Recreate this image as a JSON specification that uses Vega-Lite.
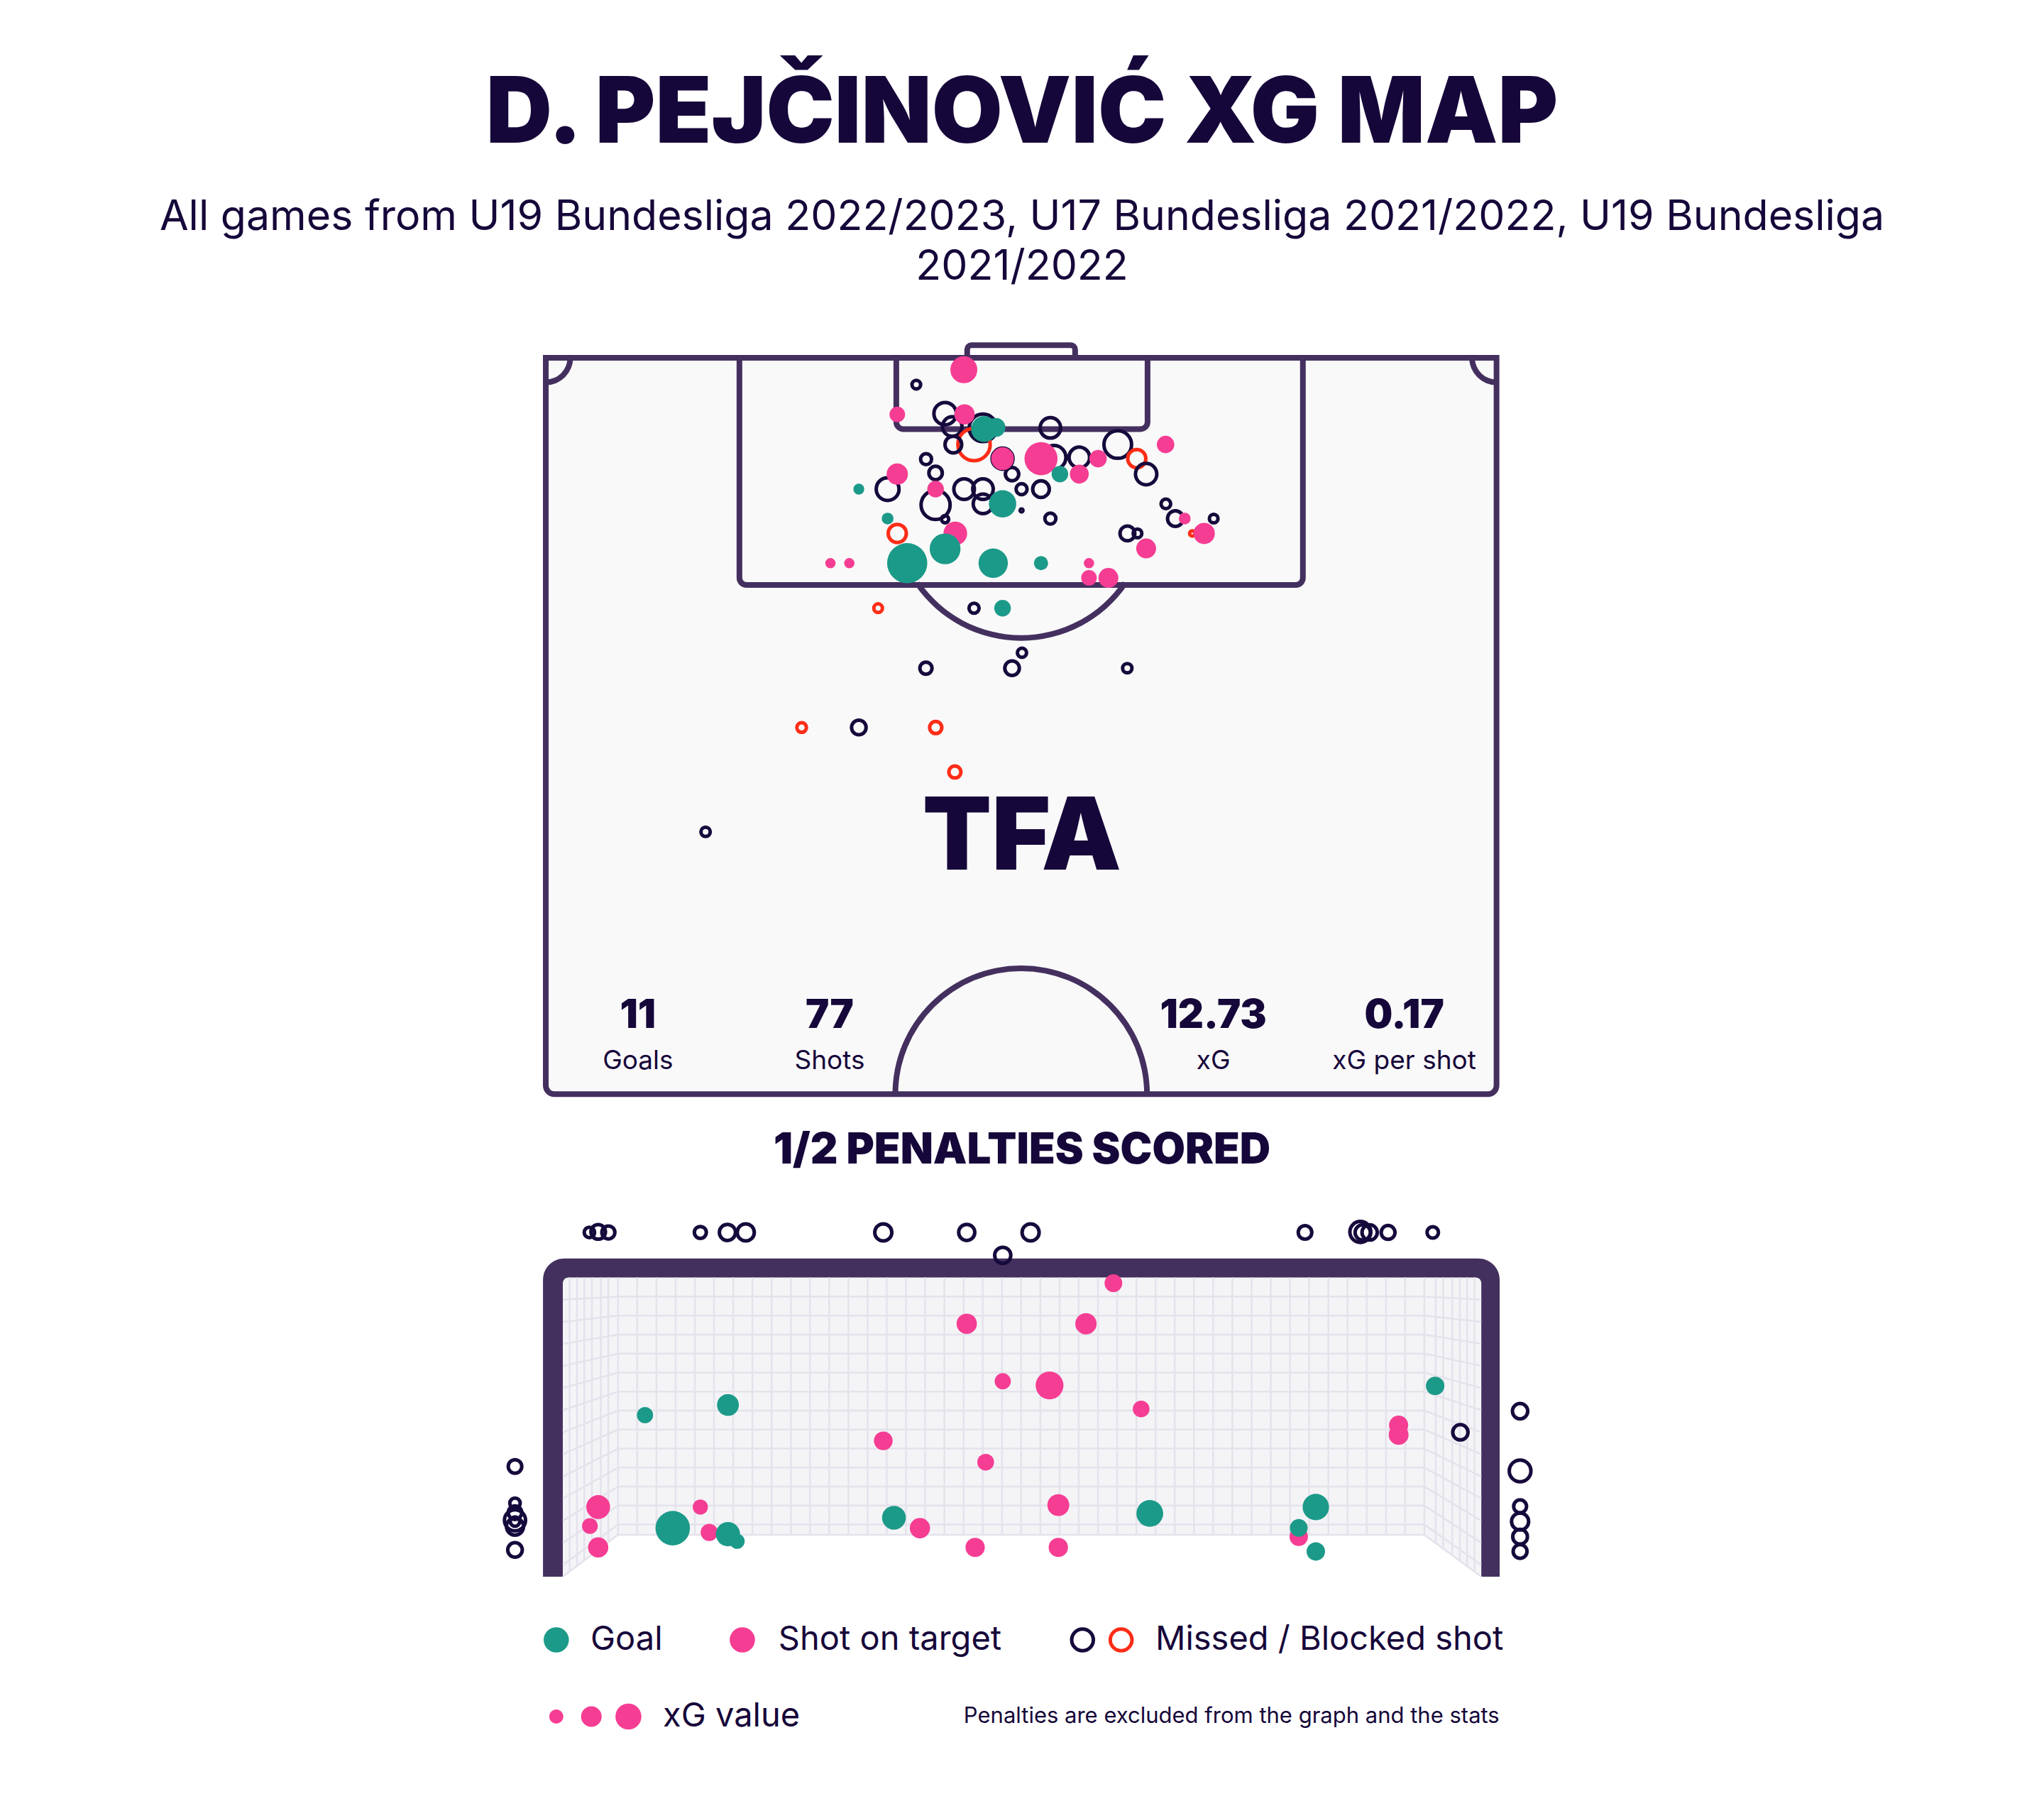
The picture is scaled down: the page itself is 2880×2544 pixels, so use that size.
{
  "$schema": "https://vega.github.io/schema/vega-lite/v6.json",
  "background": "white",
  "padding": {"left": 0, "right": 0, "top": 98, "bottom": 40},
  "autosize": {"type": "pad"},
  "bounds": "flush",
  "spacing": 140,
  "config": {"font": "Inter", "view": {"stroke": null}},
  "title": {
    "text": "D. PEJČINOVIĆ XG MAP",
    "subtitle": ["All games from U19 Bundesliga 2022/2023, U17 Bundesliga 2021/2022, U19 Bundesliga", "2021/2022"],
    "anchor": "middle",
    "font": "Inter",
    "fontSize": 129,
    "fontWeight": 900,
    "color": "#16073a",
    "subtitleFont": "Inter",
    "subtitleFontSize": 59,
    "subtitleFontWeight": 400,
    "subtitleColor": "#16073a",
    "subtitleLineHeight": 70,
    "subtitlePadding": 49,
    "offset": 72
  },
  "datasets": {
    "pitchShots": [
      {"x": 26.5, "y": 1.91, "xg": 0.037, "type": "Missed"},
      {"x": 28.56, "y": 3.98, "xg": 0.248, "type": "Missed"},
      {"x": 29.07, "y": 4.9, "xg": 0.189, "type": "Missed"},
      {"x": 31.27, "y": 4.99, "xg": 0.378, "type": "Missed"},
      {"x": 30.63, "y": 6.18, "xg": 0.518, "type": "Blocked"},
      {"x": 29.15, "y": 6.18, "xg": 0.138, "type": "Missed"},
      {"x": 36.09, "y": 4.99, "xg": 0.209, "type": "Missed"},
      {"x": 32.67, "y": 7.19, "xg": 0.218, "type": "Missed"},
      {"x": 36.35, "y": 7.1, "xg": 0.281, "type": "Missed"},
      {"x": 38.16, "y": 7.1, "xg": 0.209, "type": "Missed"},
      {"x": 27.2, "y": 7.22, "xg": 0.06, "type": "Missed"},
      {"x": 27.88, "y": 8.21, "xg": 0.089, "type": "Missed"},
      {"x": 24.45, "y": 9.36, "xg": 0.258, "type": "Missed"},
      {"x": 27.88, "y": 10.49, "xg": 0.418, "type": "Missed"},
      {"x": 29.92, "y": 9.36, "xg": 0.209, "type": "Missed"},
      {"x": 31.27, "y": 9.36, "xg": 0.209, "type": "Missed"},
      {"x": 31.27, "y": 10.41, "xg": 0.189, "type": "Missed"},
      {"x": 33.35, "y": 8.29, "xg": 0.089, "type": "Missed"},
      {"x": 34.03, "y": 9.36, "xg": 0.06, "type": "Missed"},
      {"x": 35.42, "y": 9.36, "xg": 0.138, "type": "Missed"},
      {"x": 34.03, "y": 10.88, "xg": 0.004, "type": "Missed"},
      {"x": 36.09, "y": 11.46, "xg": 0.06, "type": "Missed"},
      {"x": 28.56, "y": 11.51, "xg": 0.026, "type": "Missed"},
      {"x": 25.14, "y": 12.52, "xg": 0.163, "type": "Blocked"},
      {"x": 23.77, "y": 17.85, "xg": 0.037, "type": "Blocked"},
      {"x": 30.63, "y": 17.85, "xg": 0.05, "type": "Missed"},
      {"x": 40.91, "y": 6.18, "xg": 0.378, "type": "Missed"},
      {"x": 42.27, "y": 7.19, "xg": 0.163, "type": "Blocked"},
      {"x": 42.94, "y": 8.29, "xg": 0.226, "type": "Missed"},
      {"x": 44.35, "y": 10.41, "xg": 0.046, "type": "Missed"},
      {"x": 45.03, "y": 11.46, "xg": 0.122, "type": "Missed"},
      {"x": 47.77, "y": 11.46, "xg": 0.037, "type": "Missed"},
      {"x": 46.24, "y": 12.52, "xg": 0.014, "type": "Blocked"},
      {"x": 41.6, "y": 12.52, "xg": 0.109, "type": "Missed"},
      {"x": 42.32, "y": 12.52, "xg": 0.037, "type": "Missed"},
      {"x": 27.19, "y": 22.13, "xg": 0.073, "type": "Missed"},
      {"x": 33.35, "y": 22.13, "xg": 0.105, "type": "Missed"},
      {"x": 34.06, "y": 21.03, "xg": 0.042, "type": "Missed"},
      {"x": 41.59, "y": 22.13, "xg": 0.043, "type": "Missed"},
      {"x": 18.3, "y": 26.36, "xg": 0.046, "type": "Blocked"},
      {"x": 22.39, "y": 26.36, "xg": 0.105, "type": "Missed"},
      {"x": 27.89, "y": 26.36, "xg": 0.073, "type": "Blocked"},
      {"x": 29.26, "y": 29.53, "xg": 0.071, "type": "Blocked"},
      {"x": 11.43, "y": 33.8, "xg": 0.043, "type": "Missed"},
      {"x": 29.9, "y": 0.85, "xg": 0.361, "type": "On target"},
      {"x": 25.14, "y": 4.03, "xg": 0.121, "type": "On target"},
      {"x": 29.95, "y": 4.03, "xg": 0.204, "type": "On target"},
      {"x": 32.67, "y": 7.19, "xg": 0.256, "type": "On target"},
      {"x": 35.42, "y": 7.19, "xg": 0.543, "type": "On target"},
      {"x": 39.5, "y": 7.19, "xg": 0.151, "type": "On target"},
      {"x": 25.14, "y": 8.29, "xg": 0.225, "type": "On target"},
      {"x": 27.88, "y": 9.36, "xg": 0.137, "type": "On target"},
      {"x": 38.16, "y": 8.29, "xg": 0.177, "type": "On target"},
      {"x": 29.29, "y": 12.52, "xg": 0.279, "type": "On target"},
      {"x": 20.36, "y": 14.64, "xg": 0.053, "type": "On target"},
      {"x": 21.71, "y": 14.64, "xg": 0.053, "type": "On target"},
      {"x": 38.85, "y": 14.64, "xg": 0.053, "type": "On target"},
      {"x": 38.85, "y": 15.69, "xg": 0.121, "type": "On target"},
      {"x": 40.24, "y": 15.69, "xg": 0.196, "type": "On target"},
      {"x": 44.33, "y": 6.18, "xg": 0.151, "type": "On target"},
      {"x": 45.7, "y": 11.46, "xg": 0.069, "type": "On target"},
      {"x": 47.09, "y": 12.52, "xg": 0.225, "type": "On target"},
      {"x": 42.94, "y": 13.59, "xg": 0.196, "type": "On target"},
      {"x": 31.35, "y": 5.08, "xg": 0.335, "type": "Goal"},
      {"x": 32.2, "y": 4.96, "xg": 0.177, "type": "Goal"},
      {"x": 22.39, "y": 9.36, "xg": 0.059, "type": "Goal"},
      {"x": 32.67, "y": 10.41, "xg": 0.372, "type": "Goal"},
      {"x": 36.77, "y": 8.29, "xg": 0.137, "type": "Goal"},
      {"x": 24.45, "y": 11.46, "xg": 0.069, "type": "Goal"},
      {"x": 28.56, "y": 13.62, "xg": 0.471, "type": "Goal"},
      {"x": 25.85, "y": 14.64, "xg": 0.801, "type": "Goal"},
      {"x": 32.0, "y": 14.64, "xg": 0.428, "type": "Goal"},
      {"x": 35.42, "y": 14.64, "xg": 0.1, "type": "Goal"},
      {"x": 32.67, "y": 17.85, "xg": 0.137, "type": "Goal"}
    ],
    "goalShots": [
      {"x": 0.212, "y": 2.808, "xg": 0.054, "type": "Missed"},
      {"x": 0.282, "y": 2.812, "xg": 0.105, "type": "Missed"},
      {"x": 0.363, "y": 2.808, "xg": 0.084, "type": "Missed"},
      {"x": 1.096, "y": 2.808, "xg": 0.071, "type": "Missed"},
      {"x": 1.312, "y": 2.808, "xg": 0.129, "type": "Missed"},
      {"x": 1.458, "y": 2.808, "xg": 0.145, "type": "Missed"},
      {"x": 2.554, "y": 2.808, "xg": 0.145, "type": "Missed"},
      {"x": 3.219, "y": 2.808, "xg": 0.129, "type": "Missed"},
      {"x": 3.506, "y": 2.621, "xg": 0.129, "type": "Missed"},
      {"x": 3.728, "y": 2.808, "xg": 0.145, "type": "Missed"},
      {"x": 5.915, "y": 2.808, "xg": 0.091, "type": "Missed"},
      {"x": 6.356, "y": 2.812, "xg": 0.218, "type": "Missed"},
      {"x": 6.375, "y": 2.808, "xg": 0.116, "type": "Missed"},
      {"x": 6.43, "y": 2.808, "xg": 0.116, "type": "Missed"},
      {"x": 6.577, "y": 2.808, "xg": 0.095, "type": "Missed"},
      {"x": 6.933, "y": 2.808, "xg": 0.065, "type": "Missed"},
      {"x": -0.381, "y": 0.899, "xg": 0.091, "type": "Missed"},
      {"x": -0.381, "y": 0.599, "xg": 0.054, "type": "Missed"},
      {"x": -0.381, "y": 0.522, "xg": 0.091, "type": "Missed"},
      {"x": -0.381, "y": 0.46, "xg": 0.221, "type": "Missed"},
      {"x": -0.381, "y": 0.409, "xg": 0.145, "type": "Missed"},
      {"x": -0.381, "y": 0.45, "xg": 0.044, "type": "Missed"},
      {"x": -0.381, "y": 0.218, "xg": 0.105, "type": "Missed"},
      {"x": 7.153, "y": 1.178, "xg": 0.116, "type": "Missed"},
      {"x": 7.629, "y": 1.35, "xg": 0.116, "type": "Missed"},
      {"x": 7.629, "y": 0.863, "xg": 0.233, "type": "Missed"},
      {"x": 7.629, "y": 0.574, "xg": 0.082, "type": "Missed"},
      {"x": 7.629, "y": 0.45, "xg": 0.145, "type": "Missed"},
      {"x": 7.629, "y": 0.326, "xg": 0.107, "type": "Missed"},
      {"x": 7.629, "y": 0.206, "xg": 0.095, "type": "Missed"},
      {"x": 4.388, "y": 2.394, "xg": 0.156, "type": "On target"},
      {"x": 3.219, "y": 2.063, "xg": 0.204, "type": "On target"},
      {"x": 4.169, "y": 2.063, "xg": 0.225, "type": "On target"},
      {"x": 3.506, "y": 1.594, "xg": 0.13, "type": "On target"},
      {"x": 3.879, "y": 1.56, "xg": 0.384, "type": "On target"},
      {"x": 4.609, "y": 1.368, "xg": 0.139, "type": "On target"},
      {"x": 2.554, "y": 1.108, "xg": 0.174, "type": "On target"},
      {"x": 3.37, "y": 0.934, "xg": 0.139, "type": "On target"},
      {"x": 6.661, "y": 1.236, "xg": 0.182, "type": "On target"},
      {"x": 6.661, "y": 1.157, "xg": 0.196, "type": "On target"},
      {"x": 0.282, "y": 0.568, "xg": 0.282, "type": "On target"},
      {"x": 0.216, "y": 0.413, "xg": 0.123, "type": "On target"},
      {"x": 0.282, "y": 0.239, "xg": 0.204, "type": "On target"},
      {"x": 1.096, "y": 0.568, "xg": 0.114, "type": "On target"},
      {"x": 1.167, "y": 0.361, "xg": 0.146, "type": "On target"},
      {"x": 3.949, "y": 0.584, "xg": 0.237, "type": "On target"},
      {"x": 2.846, "y": 0.396, "xg": 0.204, "type": "On target"},
      {"x": 3.286, "y": 0.239, "xg": 0.185, "type": "On target"},
      {"x": 3.949, "y": 0.239, "xg": 0.185, "type": "On target"},
      {"x": 5.865, "y": 0.326, "xg": 0.169, "type": "On target"},
      {"x": 0.655, "y": 1.318, "xg": 0.13, "type": "Goal"},
      {"x": 1.316, "y": 1.401, "xg": 0.237, "type": "Goal"},
      {"x": 6.952, "y": 1.556, "xg": 0.169, "type": "Goal"},
      {"x": 0.876, "y": 0.396, "xg": 0.59, "type": "Goal"},
      {"x": 1.316, "y": 0.347, "xg": 0.292, "type": "Goal"},
      {"x": 1.389, "y": 0.289, "xg": 0.114, "type": "Goal"},
      {"x": 2.639, "y": 0.481, "xg": 0.282, "type": "Goal"},
      {"x": 4.678, "y": 0.516, "xg": 0.357, "type": "Goal"},
      {"x": 6.001, "y": 0.568, "xg": 0.346, "type": "Goal"},
      {"x": 5.865, "y": 0.398, "xg": 0.156, "type": "Goal"},
      {"x": 6.001, "y": 0.206, "xg": 0.169, "type": "Goal"}
    ],
    "stats": [
      {"x": 6.59, "y": 46.9, "ly": 50.15, "value": "11", "label": "Goals"},
      {"x": 20.3, "y": 46.9, "ly": 50.15, "value": "77", "label": "Shots"},
      {"x": 47.75, "y": 46.9, "ly": 50.15, "value": "12.73", "label": "xG"},
      {"x": 61.4, "y": 46.9, "ly": 50.15, "value": "0.17", "label": "xG per shot"}
    ],
    "net": [
      {"x": 0.44, "x2": 6.866, "y": 2.285, "y2": 2.285},
      {"x": 0.44, "x2": 6.866, "y": 2.13, "y2": 2.13},
      {"x": 0.44, "x2": 6.866, "y": 1.975, "y2": 1.975},
      {"x": 0.44, "x2": 6.866, "y": 1.82, "y2": 1.82},
      {"x": 0.44, "x2": 6.866, "y": 1.665, "y2": 1.665},
      {"x": 0.44, "x2": 6.866, "y": 1.51, "y2": 1.51},
      {"x": 0.44, "x2": 6.866, "y": 1.355, "y2": 1.355},
      {"x": 0.44, "x2": 6.866, "y": 1.2, "y2": 1.2},
      {"x": 0.44, "x2": 6.866, "y": 1.045, "y2": 1.045},
      {"x": 0.44, "x2": 6.866, "y": 0.89, "y2": 0.89},
      {"x": 0.44, "x2": 6.866, "y": 0.735, "y2": 0.735},
      {"x": 0.44, "x2": 6.866, "y": 0.58, "y2": 0.58},
      {"x": 0.44, "x2": 6.866, "y": 0.425, "y2": 0.425},
      {"x": 0.44, "x2": 6.866, "y": 0.342, "y2": 0.342},
      {"x": 0, "x2": 0.44, "y": 2.26, "y2": 2.285},
      {"x": 0, "x2": 0.44, "y": 2.079, "y2": 2.13},
      {"x": 0, "x2": 0.44, "y": 1.899, "y2": 1.975},
      {"x": 0, "x2": 0.44, "y": 1.719, "y2": 1.82},
      {"x": 0, "x2": 0.44, "y": 1.539, "y2": 1.665},
      {"x": 0, "x2": 0.44, "y": 1.358, "y2": 1.51},
      {"x": 0, "x2": 0.44, "y": 1.178, "y2": 1.355},
      {"x": 0, "x2": 0.44, "y": 0.998, "y2": 1.2},
      {"x": 0, "x2": 0.44, "y": 0.817, "y2": 1.045},
      {"x": 0, "x2": 0.44, "y": 0.637, "y2": 0.89},
      {"x": 0, "x2": 0.44, "y": 0.457, "y2": 0.735},
      {"x": 0, "x2": 0.44, "y": 0.276, "y2": 0.58},
      {"x": 0, "x2": 0.44, "y": 0.096, "y2": 0.425},
      {"x": 0, "x2": 0.44, "y": 0, "y2": 0.342},
      {"x": 7.32, "x2": 6.866, "y": 2.26, "y2": 2.285},
      {"x": 7.32, "x2": 6.866, "y": 2.079, "y2": 2.13},
      {"x": 7.32, "x2": 6.866, "y": 1.899, "y2": 1.975},
      {"x": 7.32, "x2": 6.866, "y": 1.719, "y2": 1.82},
      {"x": 7.32, "x2": 6.866, "y": 1.539, "y2": 1.665},
      {"x": 7.32, "x2": 6.866, "y": 1.358, "y2": 1.51},
      {"x": 7.32, "x2": 6.866, "y": 1.178, "y2": 1.355},
      {"x": 7.32, "x2": 6.866, "y": 0.998, "y2": 1.2},
      {"x": 7.32, "x2": 6.866, "y": 0.817, "y2": 1.045},
      {"x": 7.32, "x2": 6.866, "y": 0.637, "y2": 0.89},
      {"x": 7.32, "x2": 6.866, "y": 0.457, "y2": 0.735},
      {"x": 7.32, "x2": 6.866, "y": 0.276, "y2": 0.58},
      {"x": 7.32, "x2": 6.866, "y": 0.096, "y2": 0.425},
      {"x": 7.32, "x2": 6.866, "y": 0, "y2": 0.342},
      {"x": 0.054, "x2": 0.054, "y": 0.042, "y2": 2.44},
      {"x": 0.113, "x2": 0.113, "y": 0.088, "y2": 2.44},
      {"x": 0.171, "x2": 0.171, "y": 0.133, "y2": 2.44},
      {"x": 0.232, "x2": 0.232, "y": 0.18, "y2": 2.44},
      {"x": 0.303, "x2": 0.303, "y": 0.236, "y2": 2.44},
      {"x": 0.363, "x2": 0.363, "y": 0.282, "y2": 2.44},
      {"x": 7.266, "x2": 7.266, "y": 0.042, "y2": 2.44},
      {"x": 7.207, "x2": 7.207, "y": 0.088, "y2": 2.44},
      {"x": 7.149, "x2": 7.149, "y": 0.133, "y2": 2.44},
      {"x": 7.088, "x2": 7.088, "y": 0.18, "y2": 2.44},
      {"x": 7.017, "x2": 7.017, "y": 0.236, "y2": 2.44},
      {"x": 6.957, "x2": 6.957, "y": 0.282, "y2": 2.44},
      {"x": 0.44, "x2": 0.44, "y": 0.342, "y2": 2.44},
      {"x": 0.593, "x2": 0.593, "y": 0.342, "y2": 2.44},
      {"x": 0.746, "x2": 0.746, "y": 0.342, "y2": 2.44},
      {"x": 0.899, "x2": 0.899, "y": 0.342, "y2": 2.44},
      {"x": 1.052, "x2": 1.052, "y": 0.342, "y2": 2.44},
      {"x": 1.205, "x2": 1.205, "y": 0.342, "y2": 2.44},
      {"x": 1.358, "x2": 1.358, "y": 0.342, "y2": 2.44},
      {"x": 1.511, "x2": 1.511, "y": 0.342, "y2": 2.44},
      {"x": 1.664, "x2": 1.664, "y": 0.342, "y2": 2.44},
      {"x": 1.817, "x2": 1.817, "y": 0.342, "y2": 2.44},
      {"x": 1.97, "x2": 1.97, "y": 0.342, "y2": 2.44},
      {"x": 2.123, "x2": 2.123, "y": 0.342, "y2": 2.44},
      {"x": 2.276, "x2": 2.276, "y": 0.342, "y2": 2.44},
      {"x": 2.429, "x2": 2.429, "y": 0.342, "y2": 2.44},
      {"x": 2.582, "x2": 2.582, "y": 0.342, "y2": 2.44},
      {"x": 2.735, "x2": 2.735, "y": 0.342, "y2": 2.44},
      {"x": 2.888, "x2": 2.888, "y": 0.342, "y2": 2.44},
      {"x": 3.041, "x2": 3.041, "y": 0.342, "y2": 2.44},
      {"x": 3.194, "x2": 3.194, "y": 0.342, "y2": 2.44},
      {"x": 3.347, "x2": 3.347, "y": 0.342, "y2": 2.44},
      {"x": 3.5, "x2": 3.5, "y": 0.342, "y2": 2.44},
      {"x": 3.653, "x2": 3.653, "y": 0.342, "y2": 2.44},
      {"x": 3.806, "x2": 3.806, "y": 0.342, "y2": 2.44},
      {"x": 3.959, "x2": 3.959, "y": 0.342, "y2": 2.44},
      {"x": 4.112, "x2": 4.112, "y": 0.342, "y2": 2.44},
      {"x": 4.265, "x2": 4.265, "y": 0.342, "y2": 2.44},
      {"x": 4.418, "x2": 4.418, "y": 0.342, "y2": 2.44},
      {"x": 4.571, "x2": 4.571, "y": 0.342, "y2": 2.44},
      {"x": 4.724, "x2": 4.724, "y": 0.342, "y2": 2.44},
      {"x": 4.877, "x2": 4.877, "y": 0.342, "y2": 2.44},
      {"x": 5.03, "x2": 5.03, "y": 0.342, "y2": 2.44},
      {"x": 5.183, "x2": 5.183, "y": 0.342, "y2": 2.44},
      {"x": 5.336, "x2": 5.336, "y": 0.342, "y2": 2.44},
      {"x": 5.489, "x2": 5.489, "y": 0.342, "y2": 2.44},
      {"x": 5.642, "x2": 5.642, "y": 0.342, "y2": 2.44},
      {"x": 5.795, "x2": 5.795, "y": 0.342, "y2": 2.44},
      {"x": 5.948, "x2": 5.948, "y": 0.342, "y2": 2.44},
      {"x": 6.101, "x2": 6.101, "y": 0.342, "y2": 2.44},
      {"x": 6.254, "x2": 6.254, "y": 0.342, "y2": 2.44},
      {"x": 6.407, "x2": 6.407, "y": 0.342, "y2": 2.44},
      {"x": 6.56, "x2": 6.56, "y": 0.342, "y2": 2.44},
      {"x": 6.713, "x2": 6.713, "y": 0.342, "y2": 2.44},
      {"x": 6.866, "x2": 6.866, "y": 0.342, "y2": 2.44}
    ]
  },
  "vconcat": [
    {
      "width": 2880,
      "height": 1080,
      "encoding": {
        "x": {"field": "x", "type": "quantitative", "axis": null, "scale": {"domain": [-39.036, 107.157], "nice": false, "zero": false}},
        "y": {"field": "y", "type": "quantitative", "axis": null, "scale": {"domain": [-1.269, 53.4], "nice": false, "zero": false, "reverse": true}}
      },
      "layer": [
        {
          "data": {"values": [{"x": 30.14, "x2": 37.86, "y": -0.9, "y2": 0}]},
          "mark": {"type": "rect", "fill": "#ffffff", "stroke": "#44305f", "strokeWidth": 8, "cornerRadiusTopLeft": 6, "cornerRadiusTopRight": 6},
          "encoding": {"x2": {"field": "x2"}, "y2": {"field": "y2"}}
        },
        {
          "data": {"values": [{"x": 0, "x2": 68, "y": 0, "y2": 52.5}]},
          "mark": {"type": "rect", "fill": "#f9f9f9", "stroke": "#44305f", "strokeWidth": 8, "cornerRadiusBottomLeft": 12, "cornerRadiusBottomRight": 12},
          "encoding": {"x2": {"field": "x2"}, "y2": {"field": "y2"}}
        },
        {
          "data": {"values": [{"x": 13.85, "x2": 54.15, "y": 0, "y2": 16.2}, {"x": 25.07, "x2": 43.04, "y": 0, "y2": 5.08}]},
          "mark": {"type": "rect", "fillOpacity": 0, "stroke": "#44305f", "strokeWidth": 8, "cornerRadiusBottomLeft": 10, "cornerRadiusBottomRight": 10},
          "encoding": {"x2": {"field": "x2"}, "y2": {"field": "y2"}}
        },
        {
          "data": {"values": [{"x": 34, "y": 11}]},
          "mark": {"type": "arc", "radius": 181.3, "radius2": 173.3, "theta": 2.17, "theta2": 4.113, "fill": "#44305f"}
        },
        {
          "data": {"values": [{"x": 34, "y": 52.5}]},
          "mark": {"type": "arc", "radius": 181.3, "radius2": 173.3, "theta": -1.5708, "theta2": 1.5708, "fill": "#44305f"}
        },
        {
          "data": {"values": [{"x": 0, "y": 0}]},
          "mark": {"type": "arc", "radius": 38.5, "radius2": 30.5, "theta": 1.5708, "theta2": 3.1416, "fill": "#44305f"}
        },
        {
          "data": {"values": [{"x": 68, "y": 0}]},
          "mark": {"type": "arc", "radius": 38.5, "radius2": 30.5, "theta": 3.1416, "theta2": 4.7124, "fill": "#44305f"}
        },
        {
          "data": {"values": [{"x": 34.06, "y": 34.3}]},
          "mark": {"type": "text", "text": "TFA", "font": "Inter", "fontSize": 142, "fontWeight": 900, "color": "#16073a", "align": "center", "baseline": "middle"}
        },
        {
          "data": {"name": "stats"},
          "mark": {"type": "text", "font": "Inter", "fontSize": 56, "fontWeight": 900, "color": "#16073a", "align": "center", "baseline": "middle"},
          "encoding": {"text": {"field": "value", "type": "nominal"}}
        },
        {
          "data": {"name": "stats"},
          "mark": {"type": "text", "font": "Inter", "fontSize": 37, "fontWeight": 400, "color": "#16073a", "align": "center", "baseline": "middle"},
          "encoding": {"y": {"field": "ly", "type": "quantitative"}, "text": {"field": "label", "type": "nominal"}}
        },
        {
          "data": {"name": "pitchShots"},
          "transform": [{"filter": "datum.type === 'Missed' || datum.type === 'Blocked'"}],
          "mark": {"type": "point", "filled": false, "strokeWidth": 5, "opacity": 1},
          "encoding": {
            "color": {"field": "type", "type": "nominal", "legend": null, "scale": {"domain": ["Goal", "On target", "Missed", "Blocked"], "range": ["#1c9a89", "#f53d93", "#160a3c", "#fd2d17"]}},
            "size": {"field": "xg", "type": "quantitative", "legend": null, "scale": {"domain": [0, 1], "range": [0, 4000]}}
          }
        },
        {
          "data": {"name": "pitchShots"},
          "transform": [{"filter": "datum.type === 'Goal' || datum.type === 'On target'"}],
          "mark": {"type": "circle", "opacity": 1},
          "encoding": {
            "color": {"field": "type", "type": "nominal", "legend": null, "scale": {"domain": ["Goal", "On target", "Missed", "Blocked"], "range": ["#1c9a89", "#f53d93", "#160a3c", "#fd2d17"]}},
            "size": {"field": "xg", "type": "quantitative", "legend": null, "scale": {"domain": [0, 1], "range": [0, 4000]}}
          }
        }
      ]
    },
    {
      "spacing": 17,
      "bounds": "flush",
      "vconcat": [
        {
          "width": 2880,
          "height": 540,
          "title": {"text": "1/2 PENALTIES SCORED", "font": "Inter", "fontSize": 60, "fontWeight": 900, "color": "#16073a", "anchor": "middle", "offset": 47},
          "encoding": {
            "x": {"field": "x", "type": "quantitative", "axis": null, "scale": {"domain": [-4.4853, 11.8043], "nice": false, "zero": false}},
            "y": {"field": "y", "type": "quantitative", "axis": null, "scale": {"domain": [-0.1042, 3.0226], "nice": false, "zero": false}}
          },
          "layer": [
            {
              "data": {"values": [{"x": -0.158, "x2": 7.466, "y": 0, "y2": 2.596}]},
              "mark": {"type": "rect", "fill": "#44305f", "cornerRadiusTopLeft": 30, "cornerRadiusTopRight": 30},
              "encoding": {"x2": {"field": "x2"}, "y2": {"field": "y2"}}
            },
            {
              "data": {"values": [{"x": 0, "x2": 7.32, "y": 0, "y2": 2.44}]},
              "mark": {"type": "rect", "fill": "#f4f4f7", "cornerRadiusTopLeft": 8, "cornerRadiusTopRight": 8},
              "encoding": {"x2": {"field": "x2"}, "y2": {"field": "y2"}}
            },
            {
              "data": {"values": [{"x": 0, "y": 0}, {"x": 0.44, "y": 0.342}, {"x": 6.866, "y": 0.342}, {"x": 7.32, "y": 0}]},
              "mark": {"type": "area", "fill": "#ffffff", "opacity": 1, "orient": "vertical"},
              "encoding": {"y2": {"datum": 0}}
            },
            {
              "data": {"name": "net"},
              "mark": {"type": "rule", "stroke": "#e4e2eb", "strokeWidth": 2.5},
              "encoding": {"x2": {"field": "x2"}, "y2": {"field": "y2"}}
            },
            {
              "data": {"name": "goalShots"},
              "transform": [{"filter": "datum.type === 'Missed' || datum.type === 'Blocked'"}],
              "mark": {"type": "point", "filled": false, "strokeWidth": 5, "opacity": 1},
              "encoding": {
                "color": {"field": "type", "type": "nominal", "legend": null, "scale": {"domain": ["Goal", "On target", "Missed", "Blocked"], "range": ["#1c9a89", "#f53d93", "#160a3c", "#fd2d17"]}},
                "size": {"field": "xg", "type": "quantitative", "legend": null, "scale": {"domain": [0, 1], "range": [0, 4000]}}
              }
            },
            {
              "data": {"name": "goalShots"},
              "transform": [{"filter": "datum.type === 'Goal' || datum.type === 'On target'"}],
              "mark": {"type": "circle", "opacity": 1},
              "encoding": {
                "color": {"field": "type", "type": "nominal", "legend": null, "scale": {"domain": ["Goal", "On target", "Missed", "Blocked"], "range": ["#1c9a89", "#f53d93", "#160a3c", "#fd2d17"]}},
                "size": {"field": "xg", "type": "quantitative", "legend": null, "scale": {"domain": [0, 1], "range": [0, 4000]}}
              }
            }
          ]
        },
        {
          "width": 2880,
          "height": 216,
          "encoding": {
            "x": {"field": "x", "type": "quantitative", "axis": null, "scale": {"domain": [-39.036, 107.157], "nice": false, "zero": false}},
            "y": {"field": "row", "type": "quantitative", "axis": null, "scale": {"domain": [0.5, 2.5], "nice": false, "zero": false, "reverse": true}}
          },
          "layer": [
            {
              "data": {"values": [
                {"x": 0.75, "row": 1, "type": "Goal", "xg": 0.317},
                {"x": 14.06, "row": 1, "type": "On target", "xg": 0.317},
                {"x": 0.75, "row": 2, "type": "On target", "xg": 0.1},
                {"x": 3.26, "row": 2, "type": "On target", "xg": 0.21},
                {"x": 5.91, "row": 2, "type": "On target", "xg": 0.335}
              ]},
              "mark": {"type": "circle", "opacity": 1},
              "encoding": {
                "color": {"field": "type", "type": "nominal", "legend": null, "scale": {"domain": ["Goal", "On target", "Missed", "Blocked"], "range": ["#1c9a89", "#f53d93", "#160a3c", "#fd2d17"]}},
                "size": {"field": "xg", "type": "quantitative", "legend": null, "scale": {"domain": [0, 1], "range": [0, 4000]}}
              }
            },
            {
              "data": {"values": [
                {"x": 38.39, "row": 1, "type": "Missed", "xg": 0.233},
                {"x": 41.15, "row": 1, "type": "Blocked", "xg": 0.233}
              ]},
              "mark": {"type": "point", "filled": false, "strokeWidth": 5, "opacity": 1},
              "encoding": {
                "color": {"field": "type", "type": "nominal", "legend": null, "scale": {"domain": ["Goal", "On target", "Missed", "Blocked"], "range": ["#1c9a89", "#f53d93", "#160a3c", "#fd2d17"]}},
                "size": {"field": "xg", "type": "quantitative", "legend": null, "scale": {"domain": [0, 1], "range": [0, 4000]}}
              }
            },
            {
              "data": {"values": [
                {"x": 3.2, "row": 1, "label": "Goal"},
                {"x": 16.64, "row": 1, "label": "Shot on target"},
                {"x": 43.6, "row": 1, "label": "Missed / Blocked shot"},
                {"x": 8.38, "row": 2, "label": "xG value"}
              ]},
              "mark": {"type": "text", "font": "Inter", "fontSize": 47, "color": "#16073a", "align": "left", "baseline": "middle"},
              "encoding": {"text": {"field": "label", "type": "nominal"}}
            },
            {
              "data": {"values": [{"x": 68.21, "row": 2, "label": "Penalties are excluded from the graph and the stats"}]},
              "mark": {"type": "text", "font": "Inter", "fontSize": 31, "color": "#16073a", "align": "right", "baseline": "middle"},
              "encoding": {"text": {"field": "label", "type": "nominal"}}
            }
          ]
        }
      ]
    }
  ]
}
